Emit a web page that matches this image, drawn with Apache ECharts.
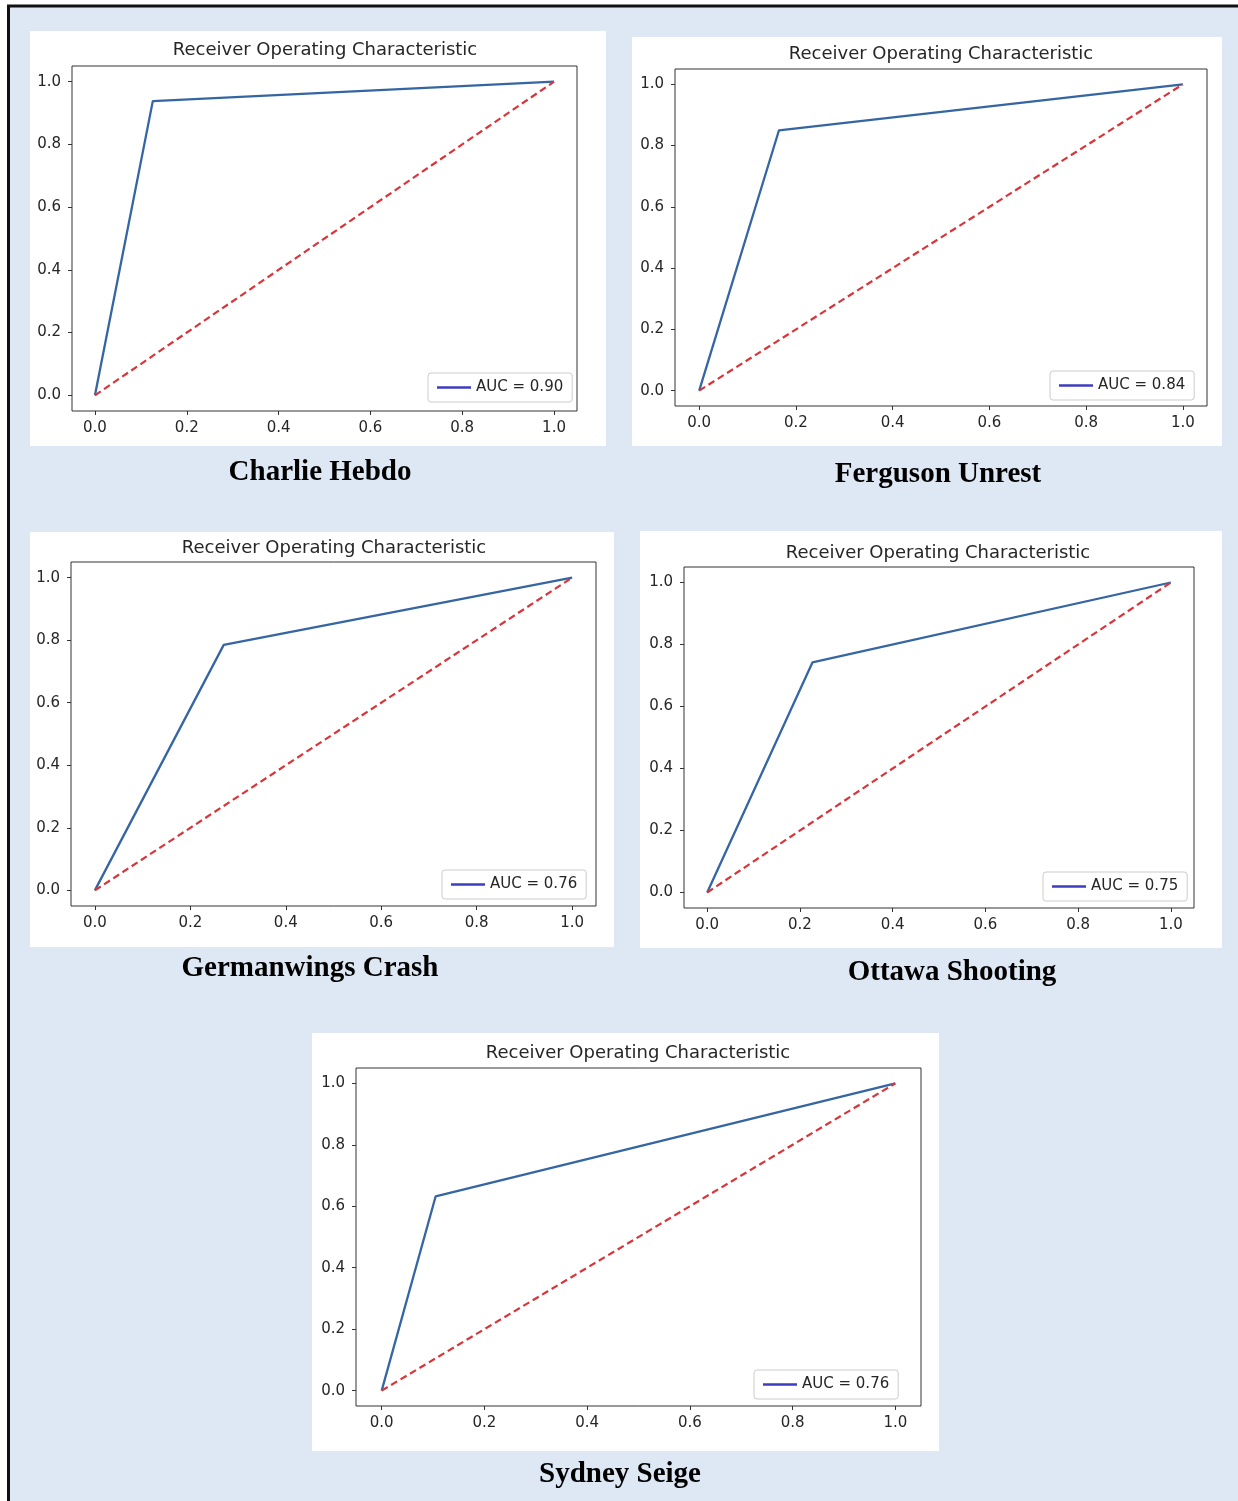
<!DOCTYPE html>
<html><head><meta charset="utf-8">
<script src="https://cdn.jsdelivr.net/npm/echarts@6/dist/echarts.min.js"></script>
<style>html,body{margin:0;padding:0;background:#dde8f4}#c{width:1238px;height:1501px}</style>
</head><body><div id="c"></div>
<script>
// ---- data ----
const panelNames = ['Charlie Hebdo', 'Ferguson Unrest', 'Germanwings Crash', 'Ottawa Shooting', 'Sydney Seige'];
const aucLabels = ['AUC = 0.90', 'AUC = 0.84', 'AUC = 0.76', 'AUC = 0.75', 'AUC = 0.76'];
const kneeFPR = [0.126, 0.165, 0.27, 0.227, 0.105];
const kneeTPR = [0.938, 0.85, 0.785, 0.742, 0.632];
const tickValues = [0, 0.2, 0.4, 0.6, 0.8, 1.0];
const chartTitle = 'Receiver Operating Characteristic';
const chanceX = [0, 1];
const chanceY = [0, 1];

// ---- layout (pixel positions of panels) ----
const layouts = [
  {panel:[30,31,576,415],  grid:[72,66,577,411],   title:[325,50],   legend:[428,373],  caption:[320,473]},
  {panel:[632,37,590,409], grid:[675,69,1207,406], title:[941,54],   legend:[1050,371], caption:[938,475]},
  {panel:[30,532,584,415], grid:[71,562,596,906],  title:[334,548],  legend:[442,870],  caption:[310,969]},
  {panel:[640,531,582,417],grid:[684,567,1194,908],title:[938,553],  legend:[1043,872], caption:[952,973]},
  {panel:[312,1033,627,418],grid:[356,1068,921,1406],title:[638,1053],legend:[754,1370], caption:[620,1475]}
];

const FONT = '"DejaVu Sans", sans-serif';
const ROC_COLOR = '#3566a3';
const LEG_COLOR = '#3d3dbf';
const RED = '#d8353b';

const grids = [], xAxes = [], yAxes = [], series = [], legends = [], graphics = [];

// page border (top and left)
graphics.push({type:'rect', z:-5, shape:{x:0,y:0,width:1238,height:1501}, style:{fill:'#dde8f4'}});
graphics.push({type:'rect', z:50, shape:{x:0,y:0,width:1238,height:5}, style:{fill:'#ffffff'}});
graphics.push({type:'rect', z:50, shape:{x:0,y:0,width:7,height:1501}, style:{fill:'#ffffff'}});
graphics.push({type:'line', z:50, shape:{x1:7,y1:6,x2:1238,y2:6}, style:{stroke:'#111',lineWidth:3}});
graphics.push({type:'line', z:50, shape:{x1:8.5,y1:5,x2:8.5,y2:1501}, style:{stroke:'#111',lineWidth:3}});

layouts.forEach((L, i) => {
  const [gl, gt, gr, gb] = L.grid;
  graphics.push({type:'rect', z:-1, shape:{x:L.panel[0], y:L.panel[1], width:L.panel[2], height:L.panel[3]}, style:{fill:'#ffffff'}});
  graphics.push({type:'text', z:10, x:L.title[0], y:L.title[1],
    style:{text:chartTitle, font:'18px ' + FONT, fill:'#262626', align:'center', verticalAlign:'middle', textAlign:'center', textVerticalAlign:'middle'}});
  graphics.push({type:'text', z:10, x:L.caption[0], y:L.caption[1],
    style:{text:panelNames[i], font:'bold 29px "Liberation Serif", "Times New Roman", serif', fill:'#000', align:'center', verticalAlign:'middle', textAlign:'center', textVerticalAlign:'middle'}});

  grids.push({left:gl, top:gt, width:gr-gl, height:gb-gt, show:true, borderColor:'#333', borderWidth:1, backgroundColor:'transparent', containLabel:false, z:3});
  const axisCommon = {
    type:'value', min:-0.05, max:1.05, gridIndex:i,
    splitLine:{show:false},
    axisLine:{show:false, onZero:false},
    axisTick:{show:true, customValues:tickValues, length:4, inside:false, lineStyle:{color:'#333', width:1}},
    axisLabel:{customValues:tickValues, formatter:v => v.toFixed(1), color:'#262626', fontFamily:FONT, fontSize:15}
  };
  xAxes.push(Object.assign({}, axisCommon, {position:'bottom', axisLabel:Object.assign({}, axisCommon.axisLabel, {margin:10})}));
  yAxes.push(Object.assign({}, axisCommon, {position:'left', axisLabel:Object.assign({}, axisCommon.axisLabel, {margin:11})}));

  series.push({
    type:'line', name:aucLabels[i], xAxisIndex:i, yAxisIndex:i, symbol:'none', silent:true, z:4,
    data:[[chanceX[0], chanceY[0]], [kneeFPR[i], kneeTPR[i]], [chanceX[1], chanceY[1]]],
    lineStyle:{color:ROC_COLOR, width:2.3}, itemStyle:{color:ROC_COLOR}
  });
  series.push({
    type:'line', name:'chance ' + i, xAxisIndex:i, yAxisIndex:i, symbol:'none', silent:true, z:5,
    data:chanceX.map((x, k) => [x, chanceY[k]]),
    lineStyle:{color:RED, width:2.2, type:[7,4]}, itemStyle:{color:RED}
  });

  legends.push({
    data:[{name:aucLabels[i], icon:'path://M0,0 L34,0 L34,2.4 L0,2.4 Z', itemStyle:{color:LEG_COLOR}, lineStyle:{color:LEG_COLOR}}],
    left:L.legend[0], top:L.legend[1], orient:'horizontal',
    itemWidth:34, itemHeight:3, selectedMode:false,
    backgroundColor:'#fff', borderColor:'#cccccc', borderWidth:1, borderRadius:3,
    padding:[7,9,7,9],
    textStyle:{color:'#262626', fontFamily:FONT, fontSize:15}
  });
});

const chart = echarts.init(document.getElementById('c'), null, {renderer:'canvas'});
chart.setOption({
  backgroundColor:'#dde8f4',
  animation:false,
  grid:grids, xAxis:xAxes, yAxis:yAxes, series:series, legend:legends,
  graphic:{elements:graphics}
});
</script></body></html>
